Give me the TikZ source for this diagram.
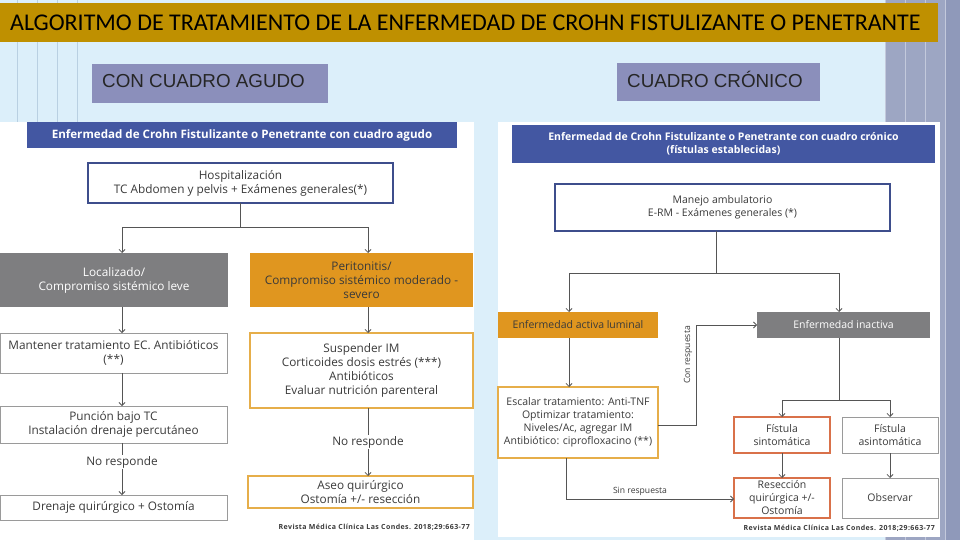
\documentclass[tikz,border=0pt]{standalone}
\usepackage{fontspec}
\setmainfont{Open Sans}
\newfontfamily\ttlfont{Carlito}
\newfontfamily\arialfont{Liberation Sans}
\newfontfamily\citefont[LetterSpace=6]{Open Sans}
\usetikzlibrary{arrows.meta}
\definecolor{bgblue}{HTML}{DCEFFA}
\definecolor{gold}{HTML}{BF9000}
\definecolor{subbox}{HTML}{8B8FBB}
\definecolor{bandc}{HTML}{9DA6C3}
\definecolor{bandd}{HTML}{8F99BA}
\definecolor{bandline}{HTML}{C3C9DC}
\definecolor{leftline}{HTML}{B9D0E2}
\definecolor{hdrblue}{HTML}{4357A2}
\definecolor{navy}{HTML}{3E4E8C}
\definecolor{grayfill}{HTML}{7E7E80}
\definecolor{orfill}{HTML}{E0961F}
\definecolor{orline}{HTML}{E6AE4A}
\definecolor{redline}{HTML}{D9714A}
\definecolor{grline}{HTML}{9A9A9A}
\definecolor{conn}{HTML}{555555}
\definecolor{txt}{HTML}{3A3A3A}
\begin{document}
\begin{tikzpicture}[x=1pt,y=-1pt,
  box/.style={rectangle, inner sep=1pt, outer sep=0pt, align=center, text=txt},
  fl/.style={font=\fontsize{11.8}{14}\selectfont},
  fr/.style={font=\fontsize{10.5}{13}\selectfont},
  hdr/.style={box, fill=hdrblue, text=white},
  navybox/.style={box, draw=navy, line width=1.5pt, fill=white},
  graybox/.style={box, fill=grayfill, text=white},
  orbox/.style={box, fill=orfill, text=txt},
  orlbox/.style={box, draw=orline, line width=1.2pt, fill=white},
  redbox/.style={box, draw=redline, line width=1.2pt, fill=white},
  grbox/.style={box, draw=grline, line width=1pt, fill=white},
  ln/.style={draw=conn, line width=0.8pt},
  arr/.style={ln, -{Straight Barb[length=3pt,width=6pt]}},
  lbl/.style={text=txt, inner sep=1pt},
  cite/.style={text=txt, inner sep=0pt, font=\citefont\fontsize{7}{8}\selectfont\bfseries}
]
\useasboundingbox (0,0) rectangle (960,540);
% background
\fill[bgblue] (0,0) rectangle (960,540);
\fill[bandc] (885,0) rectangle (960,540);
\fill[bandd] (945,0) rectangle (960,540);
\foreach \x in {885,905,925,945} \draw[bandline, line width=0.7pt] (\x,0) -- (\x,540);
\foreach \x in {17,37,57,77} \draw[leftline, line width=0.7pt] (\x,0) -- (\x,122);
% title
\node[fill=gold, minimum width=938pt, minimum height=39pt, inner sep=0pt, outer sep=0pt, anchor=north west] (titlebar) at (0,3) {};
\node[anchor=west, inner sep=0pt, font=\ttlfont\fontsize{24}{28}\selectfont] (title) at (10,23) {ALGORITMO DE TRATAMIENTO DE LA ENFERMEDAD DE CROHN FISTULIZANTE O PENETRANTE};
\node[fill=subbox, minimum width=236pt, minimum height=39pt, inner sep=0pt, anchor=north west] (subL) at (92,64) {};
\node[anchor=west, inner sep=0pt, font=\arialfont\fontsize{18.8}{22}\selectfont, text=black!85] (subLt) at (102,81) {CON CUADRO AGUDO};
\node[fill=subbox, minimum width=203pt, minimum height=38pt, inner sep=0pt, anchor=north west] (subR) at (617,63) {};
\node[anchor=west, inner sep=0pt, font=\arialfont\fontsize{18.8}{22}\selectfont, text=black!85] (subRt) at (627,79) {CUADRO CRÓNICO};
% panels
\fill[white] (0,122) rectangle (474,540);
\fill[white] (498,122) rectangle (940,537);

% ---------------- left flowchart
\node[hdr, minimum width=430pt, minimum height=26pt, font=\fontsize{11.6}{13}\selectfont\bfseries] (hdrL) at (242,135) {Enfermedad de Crohn Fistulizante o Penetrante con cuadro agudo};
\node[navybox, fl, minimum width=305pt, minimum height=40pt] (hosp) at (240.5,183) {Hospitalización\\TC Abdomen y pelvis + Exámenes generales(*)};
\node[graybox, fl, minimum width=228pt, minimum height=54pt] (loc) at (114,280) {Localizado/\\Compromiso sistémico leve};
\node[orbox, fl, minimum width=223pt, minimum height=54pt] (perit) at (361.5,280) {Peritonitis/\\Compromiso sistémico moderado -\\severo};
\node[grbox, fl, minimum width=227pt, minimum height=40pt] (mant) at (113.5,353) {Mantener tratamiento EC. Antibióticos\\(**)};
\node[orlbox, fl, minimum width=223pt, minimum height=75pt] (susp) at (361.5,370.5) {Suspender IM\\Corticoides dosis estrés (***)\\Antibióticos\\Evaluar nutrición parenteral};
\node[grbox, fl, minimum width=227pt, minimum height=37pt] (punc) at (113.5,424.5) {Punción bajo TC\\Instalación drenaje percutáneo};
\node[lbl, fl] (nr1) at (122,462) {No responde};
\node[grbox, fl, minimum width=227pt, minimum height=25pt] (dren) at (113.5,507.5) {Drenaje quirúrgico + Ostomía};
\node[lbl, fl] (nr2) at (368,442) {No responde};
\node[orlbox, fl, minimum width=225pt, minimum height=32pt] (aseo) at (360.5,492) {Aseo quirúrgico\\Ostomía +/- resección};
\node[cite, anchor=east] (citeL) at (470,527) {Revista Médica Clínica Las Condes. 2018;29:663-77};

\coordinate (cL) at (122,227);
\coordinate (cR) at (368,227);
\draw[ln] (hosp.south) -- (hosp.south |- cL);
\draw[ln] (cL) -- (cR);
\draw[arr] (cL) -- (cL |- loc.north);
\draw[arr] (cR) -- (cR |- perit.north);
\draw[arr] (cL |- loc.south) -- (cL |- mant.north);
\draw[arr] (cL |- mant.south) -- (cL |- punc.north);
\draw[ln] (cL |- punc.south) -- (nr1.north);
\draw[arr] (nr1.south) -- (cL |- dren.north);
\draw[arr] (cR |- perit.south) -- (cR |- susp.north);
\draw[ln] (cR |- susp.south) -- (nr2.north);
\draw[arr] (nr2.south) -- (cR |- aseo.north);

% ---------------- right flowchart
\node[hdr, minimum width=423pt, minimum height=38pt, font=\fontsize{10.5}{13.5}\selectfont\bfseries] (hdrR) at (723.5,144) {Enfermedad de Crohn Fistulizante o Penetrante con cuadro crónico\\(fístulas establecidas)};
\node[navybox, fr, minimum width=335pt, minimum height=47pt] (manejo) at (722.5,207.5) {Manejo ambulatorio\\E-RM - Exámenes generales (*)};
\node[orbox, fr, minimum width=160pt, minimum height=26pt] (activa) at (578,325) {Enfermedad activa luminal};
\node[graybox, fr, minimum width=173pt, minimum height=26pt] (inact) at (843.5,325) {Enfermedad inactiva};
\node[orlbox, fr, minimum width=160pt, minimum height=71pt] (escal) at (578,422.5) {Escalar tratamiento: Anti-TNF\\Optimizar tratamiento:\\Niveles/Ac, agregar IM\\Antibiótico: ciprofloxacino (**)};
\node[redbox, fr, minimum width=96pt, minimum height=36pt] (fsint) at (782,435) {Fístula\\sintomática};
\node[grbox, fr, minimum width=96pt, minimum height=36pt] (fasint) at (890,435) {Fístula\\asintomática};
\node[redbox, fr, minimum width=96pt, minimum height=40pt] (resec) at (782,498) {Resección\\quirúrgica +/-\\Ostomía};
\node[grbox, fr, minimum width=96pt, minimum height=40pt] (obs) at (890,498) {Observar};
\node[cite, anchor=east] (citeR) at (935,528) {Revista Médica Clínica Las Condes. 2018;29:663-77};

\coordinate (mj) at (716,273);
\coordinate (sA) at (569,273);
\coordinate (sI) at (839,273);
\draw[ln] (mj |- manejo.south) -- (mj);
\draw[ln] (sA) -- (sI);
\draw[arr] (sA) -- (sA |- activa.north);
\draw[arr] (sI) -- (sI |- inact.north);
\draw[arr] (sA |- activa.south) -- (sA |- escal.north);
% con respuesta
\coordinate (cr1) at (658,425);
\coordinate (cr2) at (696,425);
\coordinate (cr3) at (696,325);
\draw[arr] (escal.east |- cr1) -- (cr2) -- (cr3) -- (inact.west);
\node[lbl, rotate=90, font=\fontsize{8.6}{10}\selectfont] (conr) at (688,355) {Con respuesta};
% inactiva split
\coordinate (iS) at (839,400);
\coordinate (fS) at (782,400);
\coordinate (fA) at (890,400);
\draw[ln] (iS |- inact.south) -- (iS);
\draw[ln] (fS) -- (fA);
\draw[arr] (fS) -- (fS |- fsint.north);
\draw[arr] (fA) -- (fA |- fasint.north);
\draw[arr] (fsint.south) -- (resec.north);
\draw[arr] (fasint.south) -- (obs.north);
% sin respuesta
\coordinate (sr1) at (566,499);
\draw[arr] (sr1 |- escal.south) -- (sr1) -- (resec.west |- sr1);
\node[lbl, font=\fontsize{8.6}{10}\selectfont] (sinr) at (640,491) {Sin respuesta};
\end{tikzpicture}
\end{document}
